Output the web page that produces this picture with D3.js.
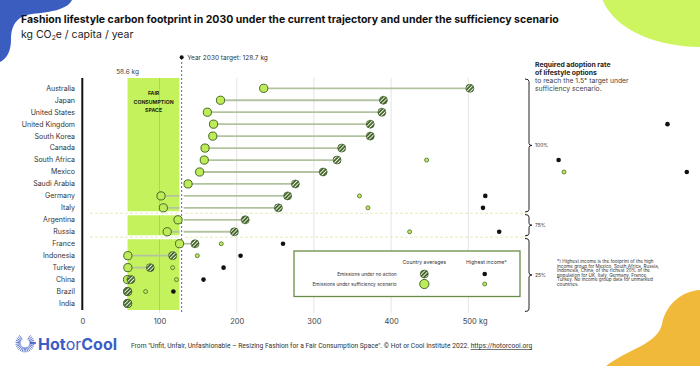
<!DOCTYPE html>
<html><head><meta charset="utf-8">
<script src="https://cdn.jsdelivr.net/npm/d3@7"></script>
<style>body{margin:0;background:#fff}svg{display:block;font-family:Inter,"Noto Sans",sans-serif}</style>
</head><body><svg id="c" width="700" height="366"></svg>
<script>
const countries = ["Australia","Japan","United States","United Kingdom","South Korea","Canada","South Africa","Mexico","Saudi Arabia","Germany","Italy","Argentina","Russia","France","Indonesia","Turkey","China","Brazil","India"];
const noAction = [502, 390, 388, 373, 373, 336, 330, 312, 276, 266, 254, 211, 197, 146, 117, 88, 63, 59, 59];
const sufficiency = [235, 179, 162, 170, 169, 159, 158, 152, 137, 102, 105, 124, 110, 126, 59, 59, 58.6, 58.6, 58.6];
const highNoAction = [null, null, null, 758, null, null, 617, 783, null, 522, 519, null, 540, 260, 205, 183, 157, 118, null];
const highSufficiency = [null, null, null, null, null, null, 446, 624, null, 359, 370, null, 424, 180, 149, 117, 122, 82, null];
const xTicks = [0, 100, 200, 300, 400, 500];
const fairMin = 58.6, target = 128.7;
const groupStarts = ["Australia", "Argentina", "France"];
const groupEnds = ["Italy", "Russia", "India"];
const groupLabels = ["100%", "75%", "25%"];

const svg = d3.select("#c");
const defs = svg.append("defs");
const pat = defs.append("pattern").attr("id","hatch").attr("patternUnits","userSpaceOnUse")
  .attr("width",2.7).attr("height",2.7).attr("patternTransform","rotate(45)");
pat.append("rect").attr("width",2.7).attr("height",2.7).attr("fill","#46682c");
pat.append("rect").attr("width",0.9).attr("height",2.7).attr("fill","#f4f7ef");

const LIME = "#c4f25c", GREEN = "#bdec58", DARK = "#46692a";

// decorations
svg.append("path").attr("d","M0,0 L72,0 C68,9 52,12 32,14 C16,16 11,26 11,40 C11,52 6,59 0,62 Z").attr("fill","#3a5dbf");
svg.append("ellipse").attr("cx",700).attr("cy",-14).attr("rx",100).attr("ry",61).attr("fill","#cdf55f");
svg.append("path").attr("d","M700,290 C682,291 666,304 662,324 C658,344 628,349 606,366 L700,366 Z").attr("fill","#f0b939");

// titles
svg.append("text").attr("x",21).attr("y",23).attr("font-size",10.5).attr("font-weight",700).attr("fill","#111")
  .text("Fashion lifestyle carbon footprint in 2030 under the current trajectory and under the sufficiency scenario");
const sub = svg.append("text").attr("x",21).attr("y",37.5).attr("font-size",10.5).attr("fill","#222");
sub.append("tspan").text("kg CO");
sub.append("tspan").attr("font-size",6.8).attr("dy",2).text("2");
sub.append("tspan").attr("dy",-2).text("e / capita / year");

const x = d3.scaleLinear().domain([0,500]).range([82.3,468.3]);
const y = d3.scalePoint().domain(countries).range([88.3,303.5]);

// fair consumption rect
svg.append("rect").attr("x",x(fairMin)).attr("y",78).attr("width",x(target)-2-x(fairMin)).attr("height",232).attr("fill",LIME);

// grid
svg.append("g").selectAll("line").data(xTicks.filter(d=>d>0)).join("line")
  .attr("x1",d=>x(d)).attr("x2",d=>x(d)).attr("y1",78).attr("y2",313)
  .attr("stroke","rgba(0,0,0,0.11)").attr("stroke-width",1);

// connecting lines
svg.append("g").selectAll("line").data(countries).join("line")
  .attr("x1",(d,i)=>x(sufficiency[i])).attr("x2",(d,i)=>x(noAction[i]))
  .attr("y1",d=>y(d)).attr("y2",d=>y(d)).attr("stroke","#b3c3a2").attr("stroke-width",1.8);

// group separators
const seps = [ (y(groupEnds[0])+y(groupStarts[1]))/2 - 0.6, (y(groupEnds[1])+y(groupStarts[2]))/2 - 0.6 ];
svg.append("g").selectAll("line").data(seps).join("line")
  .attr("x1",x(fairMin)-1).attr("x2",x(target)).attr("y1",d=>d).attr("y2",d=>d)
  .attr("stroke","#fff").attr("stroke-width",4);
svg.append("g").selectAll("line").data(seps).join("line")
  .attr("x1",90).attr("x2",527).attr("y1",d=>d).attr("y2",d=>d)
  .attr("stroke","#e3ecbd").attr("stroke-width",1).attr("stroke-dasharray","3,2");

// target line
svg.append("line").attr("x1",x(target)).attr("x2",x(target)).attr("y1",60).attr("y2",312)
  .attr("stroke","#fff").attr("stroke-width",4);
svg.append("line").attr("x1",x(target)).attr("x2",x(target)).attr("y1",58).attr("y2",312)
  .attr("stroke","#666").attr("stroke-width",1).attr("stroke-dasharray","2,2");
svg.append("circle").attr("cx",x(target)).attr("cy",57.3).attr("r",2).attr("fill","#111");
svg.append("text").attr("x",x(target)+5.5).attr("y",59.6).attr("font-size",6.5).attr("fill","#333")
  .text("Year 2030 target: "+target+" kg");
svg.append("text").attr("x",x(fairMin)).attr("y",74).attr("text-anchor","middle").attr("font-size",6.5).attr("fill","#444")
  .text(fairMin+" kg");

// fair consumption label
const fc = svg.append("text").attr("text-anchor","middle").attr("font-size",5.2).attr("font-weight",700).attr("fill","#1d2a10");
["FAIR","CONSUMPTION","SPACE"].forEach((t,i)=>fc.append("tspan").attr("x",(x(fairMin)+x(target)-2)/2).attr("y",95.2+i*8.6).text(t));

// left axis
svg.append("line").attr("x1",x(0)).attr("x2",x(0)).attr("y1",78).attr("y2",310).attr("stroke","#111").attr("stroke-width",2);
svg.append("g").selectAll("text").data(countries).join("text")
  .attr("x",75).attr("y",d=>y(d)+2.4).attr("text-anchor","end").attr("font-size",7).attr("fill","#333").text(d=>d);

// bottom axis
const ax = svg.append("g").attr("transform","translate(0,316)")
  .call(d3.axisBottom(x).tickValues(xTicks).tickSize(0).tickPadding(3).tickFormat(d=>d));
ax.select(".domain").remove();
ax.selectAll("text").attr("font-size",7.5).attr("fill","#444").attr("font-family","Inter,sans-serif");
ax.selectAll(".tick").filter(d=>d===500).select("text").attr("text-anchor","start").attr("dx",-6).text("500 kg");

// points
const pts = svg.append("g");
pts.selectAll("circle.s").data(countries).join("circle").attr("class","s")
  .attr("cx",(d,i)=>x(sufficiency[i])).attr("cy",d=>y(d)).attr("r",4.1)
  .attr("fill",GREEN).attr("stroke",DARK).attr("stroke-width",1);
pts.selectAll("circle.n").data(countries).join("circle").attr("class","n")
  .attr("cx",(d,i)=>x(noAction[i])).attr("cy",d=>y(d)).attr("r",4)
  .attr("fill","url(#hatch)").attr("stroke","#3d5c27").attr("stroke-width",0.7);
const hs = countries.map((c,i)=>({c,v:highSufficiency[i]})).filter(d=>d.v!==null);
pts.selectAll("circle.hs").data(hs).join("circle").attr("class","hs")
  .attr("cx",d=>x(d.v)).attr("cy",d=>y(d.c)).attr("r",2)
  .attr("fill",GREEN).attr("stroke",DARK).attr("stroke-width",0.8);
const hn = countries.map((c,i)=>({c,v:highNoAction[i]})).filter(d=>d.v!==null);
pts.selectAll("circle.hn").data(hn).join("circle").attr("class","hn")
  .attr("cx",d=>x(d.v)).attr("cy",d=>y(d.c)).attr("r",2.3).attr("fill","#111");

// legend
const lg = svg.append("g");
lg.append("rect").attr("x",294).attr("y",251).attr("width",226).attr("height",45.5).attr("fill","#fff").attr("stroke","#6b8c48").attr("stroke-width",1.3);
lg.append("text").attr("x",424.3).attr("y",263.8).attr("text-anchor","middle").attr("font-size",5.2).attr("fill","#333").text("Country averages");
lg.append("text").attr("x",486.5).attr("y",263.8).attr("text-anchor","middle").attr("font-size",5.2).attr("fill","#333").text("Highest income*");
lg.append("text").attr("x",396.7).attr("y",275.8).attr("text-anchor","end").attr("font-size",4.8).attr("fill","#333").text("Emissions under no action");
lg.append("text").attr("x",396.7).attr("y",285.8).attr("text-anchor","end").attr("font-size",4.8).attr("fill","#333").text("Emissions under sufficiency scenario");
lg.append("circle").attr("cx",424.3).attr("cy",274).attr("r",4).attr("fill","url(#hatch)").attr("stroke","#3d5c27").attr("stroke-width",0.7);
lg.append("circle").attr("cx",424.3).attr("cy",284).attr("r",4.6).attr("fill",GREEN).attr("stroke",DARK).attr("stroke-width",1);
lg.append("circle").attr("cx",484.7).attr("cy",274).attr("r",2.3).attr("fill","#111");
lg.append("circle").attr("cx",484.7).attr("cy",284).attr("r",2).attr("fill",GREEN).attr("stroke",DARK).attr("stroke-width",0.8);

// right side
const rt = svg.append("g").attr("font-size",6.8);
rt.append("text").attr("x",535).attr("y",67.3).attr("font-weight",700).attr("fill","#222").text("Required adoption rate");
rt.append("text").attr("x",535).attr("y",75.3).attr("font-weight",700).attr("fill","#222").text("of lifestyle options");
rt.append("text").attr("x",535).attr("y",83).attr("fill","#444").text("to reach the 1.5° target under");
rt.append("text").attr("x",535).attr("y",90.6).attr("fill","#444").text("sufficiency scenario.");

const bounds = [79, seps[0], seps[1], 311.5];
const bx = 529;
groupLabels.forEach((lab,i)=>{
  const t = bounds[i] + (i===0?0:1.3), b = bounds[i+1] - (i===2?0:1.3), m = (t+b)/2;
  svg.append("path").attr("d",`M${bx-4},${t} Q${bx},${t} ${bx},${t+2.5} L${bx},${m-2} Q${bx},${m} ${bx+3},${m} Q${bx},${m} ${bx},${m+2} L${bx},${b-2.5} Q${bx},${b} ${bx-4},${b}`)
    .attr("fill","none").attr("stroke","#222").attr("stroke-width",1);
  svg.append("text").attr("x",bx+6).attr("y",m+1.8).attr("font-size",5).attr("fill","#333").text(lab);
});

const note = ["*) Highest income is the footprint of the high","income group for Mexico, South Africa, Russia,","Indonesia, China; of the richest 20% of the","population for UK, Italy, Germany, France,","Turkey. No income group data for unmarked","countries."];
const nt = svg.append("text").attr("font-size",4.6).attr("fill","#333");
note.forEach((t,i)=>nt.append("tspan").attr("x",557).attr("y",263+i*4.5).text(t));

// footer logo
const logo = svg.append("g").attr("transform","translate(25,343)");
d3.range(24).forEach(k=>{
  const a = -Math.PI*0.8 + k*(Math.PI*1.6/23);
  const a2 = a + Math.PI/2;
  logo.append("line").attr("x1",Math.cos(a2)*4.5).attr("y1",Math.sin(a2)*4.5).attr("x2",Math.cos(a2)*9.5).attr("y2",Math.sin(a2)*9.5)
    .attr("stroke","#3b5cc4").attr("stroke-width",0.8);
});
logo.append("line").attr("x1",5).attr("x2",11).attr("y1",0).attr("y2",0).attr("stroke","#3b5cc4").attr("stroke-width",1.6);
const lt = svg.append("text").attr("x",38).attr("y",349.5).attr("font-size",16).attr("fill","#3b5cc4");
lt.append("tspan").attr("font-weight",700).text("Hot");
lt.append("tspan").attr("font-weight",400).text("or");
lt.append("tspan").attr("font-weight",700).text("Cool");

const ft = svg.append("text").attr("x",131).attr("y",348).attr("font-size",6.7).attr("fill","#333").attr("font-family","Roboto,sans-serif");
ft.append("tspan").text("From \"Unfit, Unfair, Unfashionable \u2013  Resizing Fashion for a Fair Consumption Space\". \u00a9 Hot or Cool Institute 2022. ");
ft.append("tspan").attr("text-decoration","underline").text("https://hotorcool.org");
</script></body></html>
